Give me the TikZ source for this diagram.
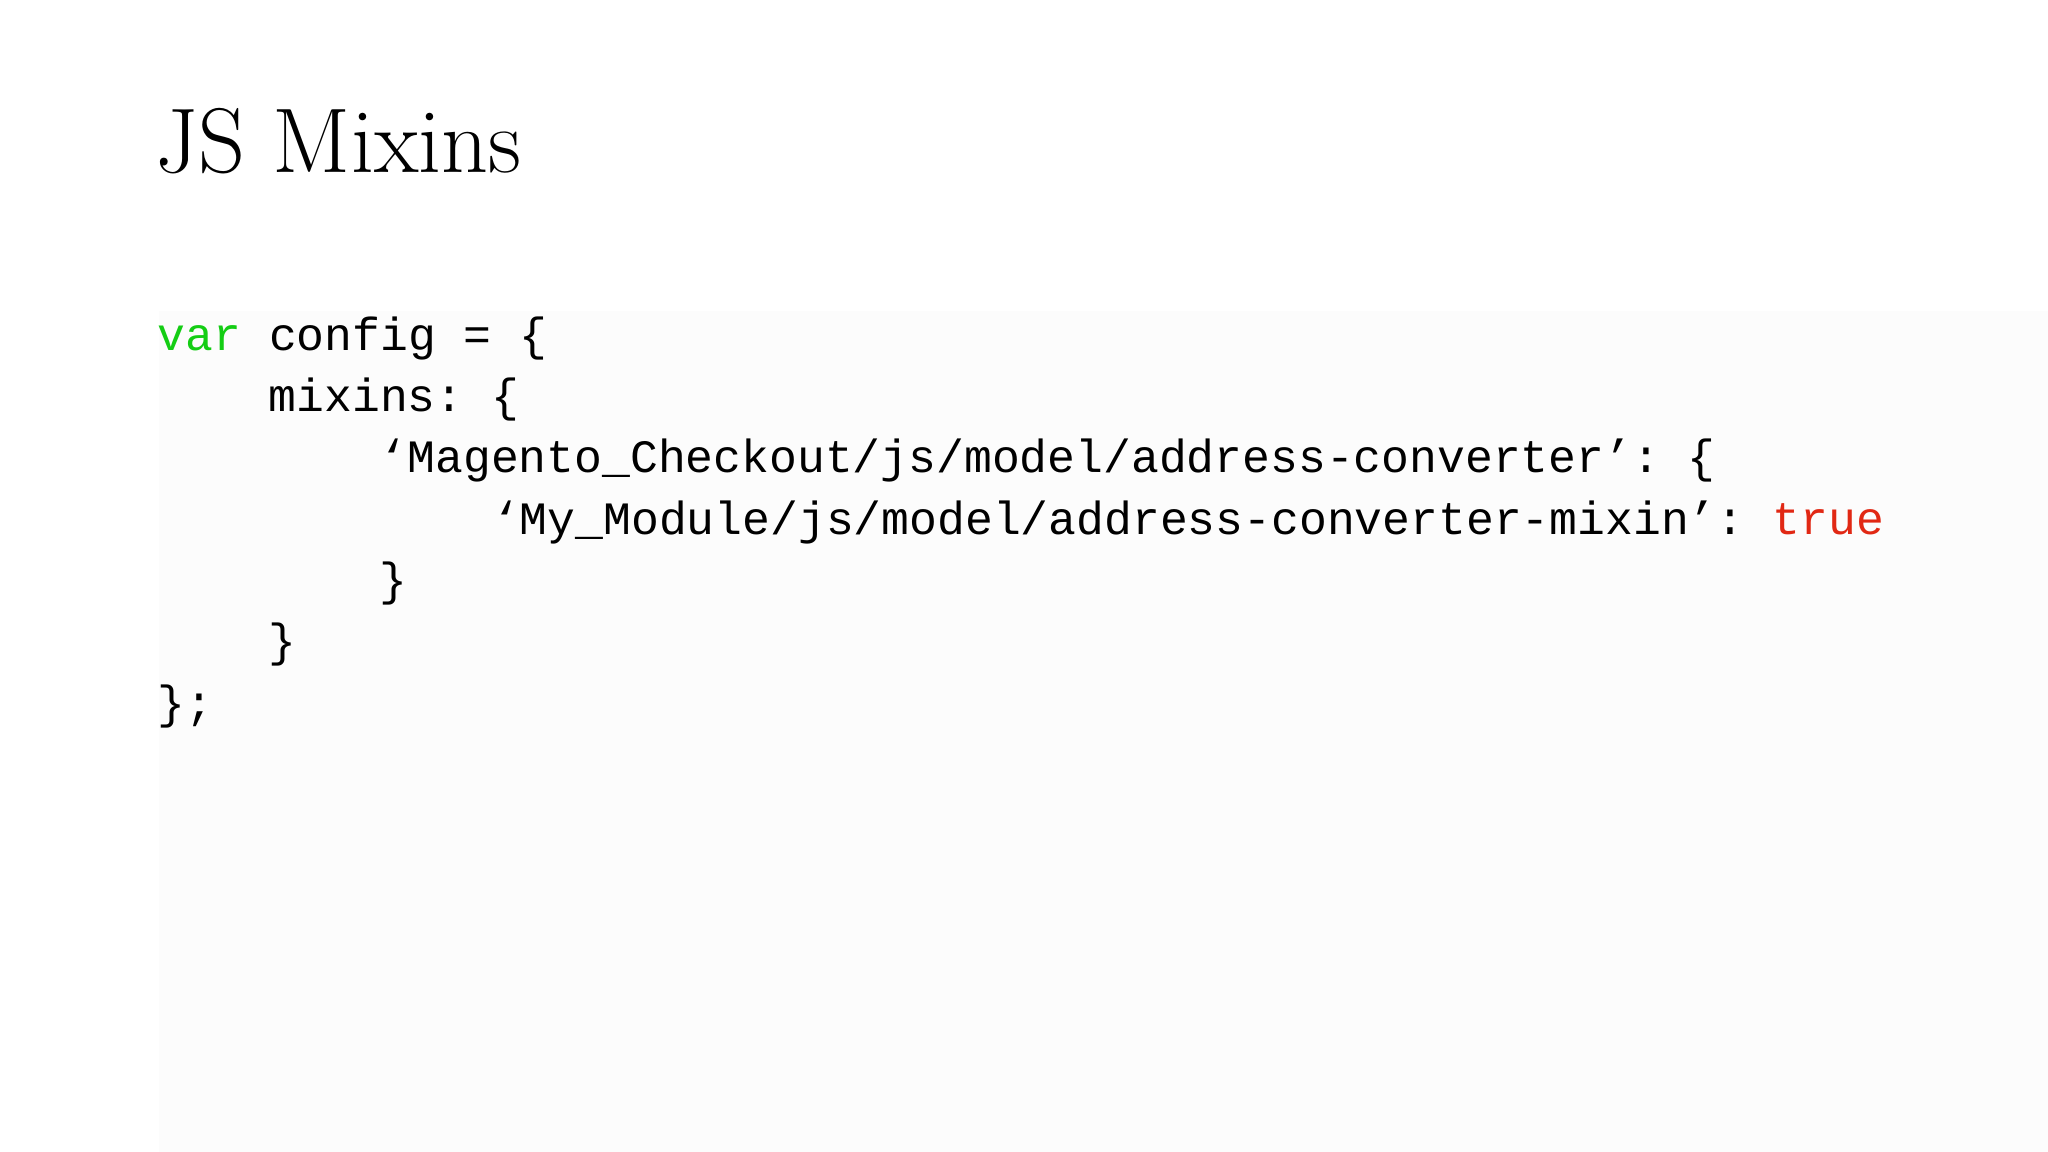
\documentclass[tikz,border=0pt]{standalone}
\usepackage{fontspec}
\setmonofont{Liberation Mono}
\setmainfont{Latin Modern Roman}
\definecolor{kwgreen}{RGB}{20,205,20}
\definecolor{kwred}{RGB}{225,40,20}
\definecolor{panel}{RGB}{252,252,252}
\tikzset{code/.style={anchor=base west,inner sep=0pt,font=\fontsize{10.1pt}{12pt}\ttfamily}}
\begin{document}
\begin{tikzpicture}[x=0.01cm,y=-0.01cm]
\useasboundingbox (0,0) rectangle (1568,882);
\fill[white] (0,0) rectangle (1568,882);
\fill[panel] (122,238) rectangle (1568,882);
\node[anchor=base west,inner sep=0pt,font=\fontsize{20pt}{24pt}\selectfont] (title) at (118,132) {JS Mixins};
\node[code] (l1) at (120,268) {\textcolor{kwgreen}{var} config = \{};
\node[code] (l2) at (205,315) {mixins: \{};
\node[code] (l3) at (290,362) {‘Magento\_Checkout/js/model/address-converter’: \{};
\node[code] (l4) at (376,409) {‘My\_Module/js/model/address-converter-mixin’: \textcolor{kwred}{true}};
\node[code] (l5) at (290,456) {\}};
\node[code] (l6) at (205,503) {\}};
\node[code] (l7) at (120,550) {\};};
\end{tikzpicture}
\end{document}
